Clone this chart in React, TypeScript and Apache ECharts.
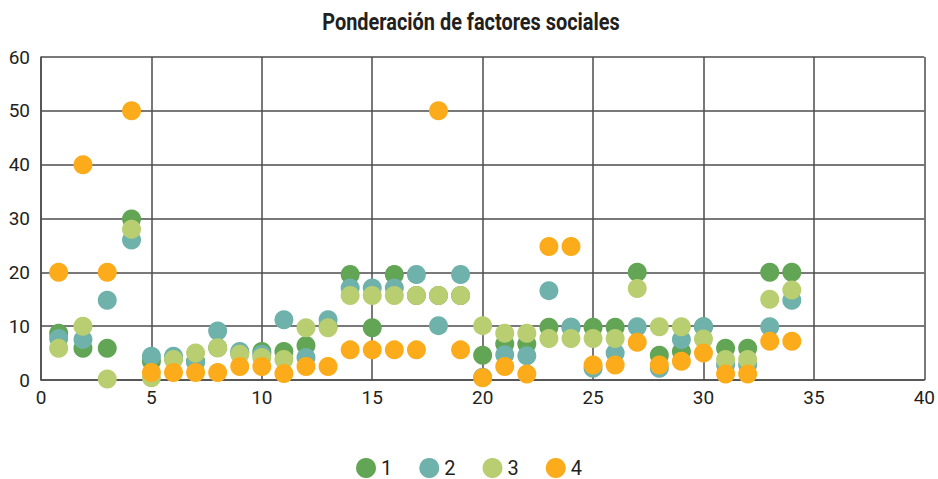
import React, { useEffect, useRef } from "react";
import * as echarts from "echarts";

const xValues = [0.8, 1.9, 3, 4.1, 5, 6, 7, 8, 9, 10, 11, 12, 13, 14, 15, 16, 17, 18, 19, 20, 21, 22, 23, 24, 25, 26, 27, 28, 29, 30, 31, 32, 33, 34];
const series1 = [8.7, 5.9, 5.9, 29.9, 3.5, 4, 3.5, 6, 5, 5.3, 5.3, 6.4, 10, 19.6, 9.7, 19.6, 15.7, 15.7, 15.7, 4.6, 6.7, 6.7, 9.8, 9.8, 9.8, 9.8, 20, 4.6, 5.3, 9.9, 5.9, 5.9, 20, 20];
const series2 = [7.7, 7.5, 14.8, 26, 4.4, 4.4, 3.3, 9.1, 5.3, 4.8, 11.2, 4.2, 11.2, 17.1, 17.1, 17.1, 19.6, 10.1, 19.6, 0.5, 4.7, 4.5, 16.6, 9.8, 2.2, 5.0, 9.9, 2.2, 7.5, 9.9, 2.8, 2.8, 9.9, 14.8];
const series3 = [5.9, 10, 0.2, 28, 0.4, 3.8, 5, 6, 4.8, 4.2, 3.8, 9.7, 9.7, 15.7, 15.7, 15.7, 15.7, 15.7, 15.7, 10.1, 8.7, 8.7, 7.7, 7.7, 7.7, 7.7, 17, 9.9, 9.9, 7.6, 3.8, 3.8, 15, 16.7];
const series4 = [20, 40, 20, 50, 1.4, 1.4, 1.4, 1.4, 2.5, 2.5, 1.2, 2.5, 2.5, 5.6, 5.6, 5.6, 5.6, 50, 5.6, 0.4, 2.5, 1.1, 24.8, 24.8, 2.8, 2.8, 7.0, 2.8, 3.5, 5.0, 1.1, 1.1, 7.2, 7.2];
const seriesNames = ["1", "2", "3", "4"];
const colors = ["#61a555", "#6fb1ab", "#b8ce70", "#fcac1b"];
const titleText = "Ponderación de factores sociales";

const FONT = "Roboto, 'Noto Sans', sans-serif";

export default function App() {
  const ref = useRef<HTMLDivElement>(null);
  useEffect(() => {
    if (!ref.current) return;
    const chart = echarts.init(ref.current, null, { renderer: "svg" });
    const all = [series1, series2, series3, series4];
    chart.setOption({
      animation: false,
      color: colors,
      graphic: [
        {
          type: "text",
          x: 471,
          y: 22,
          scaleX: 0.83,
          style: {
            text: titleText,
            textAlign: "center",
            textVerticalAlign: "middle",
            fontFamily: FONT,
            fontSize: 24,
            fontWeight: "bold",
            fill: "#231f20",
          },
        },
      ],
      legend: {
        top: 453,
        left: "center",
        itemWidth: 20,
        itemHeight: 20,
        itemGap: 27,
        icon: "circle",
        textStyle: { fontFamily: FONT, fontSize: 20, color: "#231f20" },
        data: seriesNames,
      },
      grid: { left: 41, right: 13, top: 57, bottom: 99 },
      xAxis: {
        type: "value",
        min: 0,
        max: 40,
        interval: 5,
        axisLine: { show: true, lineStyle: { color: "#4d4d4d", width: 1.5 } },
        axisTick: { show: false },
        splitLine: { show: true, lineStyle: { color: "#4d4d4d", width: 1.5 } },
        axisLabel: { fontFamily: FONT, fontSize: 19, color: "#231f20", margin: 8 },
      },
      yAxis: {
        type: "value",
        min: 0,
        max: 60,
        interval: 10,
        axisLine: { show: true, lineStyle: { color: "#4d4d4d", width: 1.5 } },
        axisTick: { show: false },
        splitLine: { show: true, lineStyle: { color: "#4d4d4d", width: 1.5 } },
        axisLabel: { fontFamily: FONT, fontSize: 19, color: "#231f20", margin: 11 },
      },
      series: all.map((vals, i) => ({
        name: seriesNames[i],
        type: "scatter",
        symbol: "circle",
        symbolSize: 19,
        itemStyle: { color: colors[i], opacity: 1 },
        data: xValues.map((x, j) => [x, vals[j]]),
      })),
    });
    return () => chart.dispose();
  }, []);
  return <div ref={ref} style={{ position: "absolute", left: 0, top: 0, width: 938, height: 479 }} />;
}
